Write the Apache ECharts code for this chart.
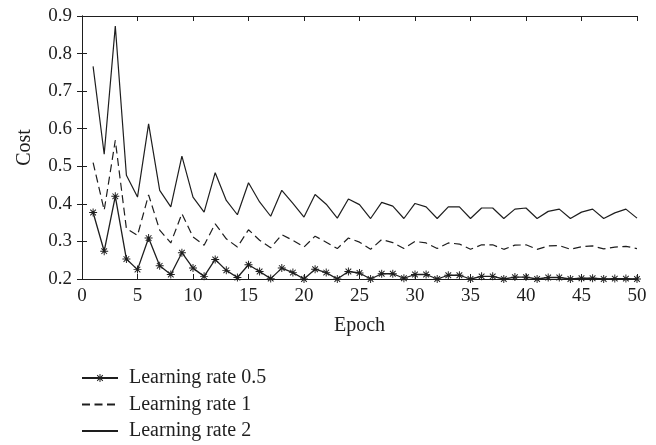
<!DOCTYPE html>
<html>
<head>
<meta charset="utf-8">
<script src="https://cdn.jsdelivr.net/npm/echarts@6/dist/echarts.min.js"></script>
<style>html,body{margin:0;padding:0;background:#fff;}#c{width:656px;height:445px;}</style>
</head>
<body>
<div id="c"></div>
<script>
const epochs = [1,2,3,4,5,6,7,8,9,10,11,12,13,14,15,16,17,18,19,20,21,22,23,24,25,26,27,28,29,30,31,32,33,34,35,36,37,38,39,40,41,42,43,44,45,46,47,48,49,50];
const lr05 = [0.377,0.274,0.420,0.253,0.225,0.309,0.235,0.212,0.270,0.229,0.207,0.252,0.223,0.204,0.238,0.220,0.201,0.229,0.217,0.200,0.226,0.217,0.200,0.220,0.216,0.200,0.214,0.214,0.202,0.212,0.212,0.200,0.210,0.210,0.200,0.207,0.207,0.200,0.205,0.205,0.200,0.204,0.204,0.200,0.202,0.202,0.200,0.201,0.201,0.200];
const lr1 = [0.510,0.383,0.569,0.334,0.316,0.424,0.330,0.296,0.374,0.312,0.290,0.347,0.307,0.285,0.331,0.303,0.283,0.318,0.303,0.285,0.314,0.298,0.281,0.309,0.298,0.279,0.305,0.297,0.281,0.300,0.296,0.281,0.296,0.293,0.279,0.291,0.291,0.279,0.290,0.291,0.279,0.288,0.289,0.279,0.286,0.288,0.280,0.285,0.287,0.281];
const lr2 = [0.766,0.532,0.873,0.476,0.418,0.613,0.436,0.392,0.527,0.418,0.378,0.483,0.409,0.371,0.456,0.405,0.367,0.436,0.401,0.365,0.425,0.399,0.362,0.413,0.398,0.361,0.404,0.394,0.361,0.401,0.392,0.361,0.392,0.392,0.361,0.389,0.389,0.361,0.386,0.389,0.361,0.380,0.386,0.361,0.378,0.386,0.361,0.376,0.386,0.362];
const seriesNames = ['Learning rate 0.5','Learning rate 1','Learning rate 2'];
const xTicks = {min:0, max:50, interval:5};
const yTicks = {min:0.2, max:0.9, interval:0.1};

const FONT = '"Liberation Serif", "DejaVu Serif", serif';
const INK = '#1e1e1e';
const star = 'path://M-5,-0.6L5,-0.6L5,0.6L-5,0.6Z M0.6,-5L0.6,5L-0.6,5L-0.6,-5Z M-3.112,-3.960L3.960,3.112L3.112,3.960L-3.960,-3.112Z M3.960,-3.112L-3.112,3.960L-3.960,3.112L3.112,-3.960Z';

function pairs(arr){ return epochs.map((e,i)=>[e, arr[i]]); }

const chart = echarts.init(document.getElementById('c'), null, {renderer:'canvas'});
const axisCommon = {
  axisLine:{show:true, lineStyle:{color:INK, width:1}},
  axisTick:{show:true, inside:true, length:5, lineStyle:{color:INK, width:1}},
  splitLine:{show:false}
};
chart.setOption({
  animation:false,
  backgroundColor:'#fff',
  textStyle:{fontFamily:FONT, color:INK},
  grid:{left:82, right:19, top:16, bottom:166, containLabel:false},
  xAxis:[
    Object.assign({type:'value', position:'bottom', min:xTicks.min, max:xTicks.max, interval:xTicks.interval,
      name:'Epoch', nameLocation:'middle', nameGap:37,
      nameTextStyle:{fontFamily:FONT, fontSize:20, color:INK},
      axisLabel:{fontFamily:FONT, fontSize:19, color:INK, margin:8}}, axisCommon),
    Object.assign({type:'value', position:'top', min:xTicks.min, max:xTicks.max, interval:xTicks.interval,
      axisLabel:{show:false}}, axisCommon)
  ],
  yAxis:[
    Object.assign({type:'value', position:'left', min:yTicks.min, max:yTicks.max, interval:yTicks.interval,
      name:'Cost', nameLocation:'middle', nameGap:47, nameRotate:90,
      nameTextStyle:{fontFamily:FONT, fontSize:20, color:INK},
      axisLabel:{fontFamily:FONT, fontSize:19, color:INK, margin:10, formatter:v=>v.toFixed(1)}}, axisCommon),
    Object.assign({type:'value', position:'right', min:yTicks.min, max:yTicks.max, interval:yTicks.interval,
      axisLabel:{show:false}}, axisCommon)
  ],
  legend:{
    orient:'vertical', left:81, top:368, height:90, padding:0,
    itemWidth:36, itemHeight:10, itemGap:6.5,
    textStyle:{fontFamily:FONT, fontSize:20, lineHeight:20, color:INK, padding:[0,0,0,6]},
    data:[
      {name:seriesNames[0]},
      {name:seriesNames[1], itemStyle:{color:'rgba(0,0,0,0)', borderWidth:0}},
      {name:seriesNames[2], itemStyle:{color:'rgba(0,0,0,0)', borderWidth:0}}
    ]
  },
  series:[
    {name:seriesNames[0], type:'line', data:pairs(lr05), xAxisIndex:0, yAxisIndex:0, clip:false,
      symbol:star, symbolSize:8, showAllSymbol:true,
      itemStyle:{color:INK}, lineStyle:{color:INK, width:1.3}},
    {name:seriesNames[1], type:'line', data:pairs(lr1), xAxisIndex:0, yAxisIndex:0,
      symbol:'none', itemStyle:{color:INK}, lineStyle:{color:INK, width:1.2, type:[8,4.5]}},
    {name:seriesNames[2], type:'line', data:pairs(lr2), xAxisIndex:0, yAxisIndex:0,
      symbol:'none', itemStyle:{color:INK}, lineStyle:{color:INK, width:1.2}}
  ]
});
</script>
</body>
</html>
